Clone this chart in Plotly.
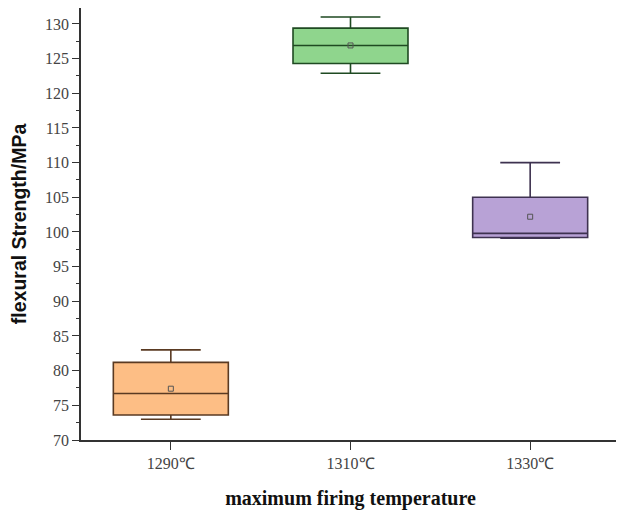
import plotly.graph_objects as go

categories = ["1290℃", "1310℃", "1330℃"]
lower = [73.0, 122.9, 99.1]
q1 = [73.6, 124.3, 99.2]
median = [76.7, 126.9, 99.8]
q3 = [81.2, 129.4, 105.0]
upper = [83.0, 131.0, 110.0]
means = [77.4, 126.9, 102.2]

fills = ["#FDBE85", "#8FD58D", "#B8A2D6"]
lines = ["#5A3A22", "#1F4A22", "#3E3250"]

fig = go.Figure()
for i in range(3):
    fig.add_trace(go.Box(
        x=[i], q1=[q1[i]], median=[median[i]], q3=[q3[i]],
        lowerfence=[lower[i]], upperfence=[upper[i]],
        fillcolor=fills[i], line=dict(color=lines[i], width=1.6),
        width=0.64, whiskerwidth=0.52, boxpoints=False, showlegend=False,
    ))
    fig.add_trace(go.Scatter(
        x=[i], y=[means[i]], mode="markers",
        marker=dict(symbol="square-open", size=5, color="#555555", line=dict(width=1)),
        showlegend=False, hoverinfo="skip",
    ))

fig.update_layout(
    width=624, height=512,
    margin=dict(l=73, r=12, t=0, b=80),
    plot_bgcolor="white", paper_bgcolor="white",
    font=dict(family="Liberation Serif", size=16, color="#444444"),
)
fig.update_xaxes(
    range=[-0.5, 2.5], tickvals=[0, 1, 2], ticktext=categories, automargin=False,
    showline=True, linecolor="#333333", linewidth=1.5,
    ticks="outside", ticklen=8, tickcolor="#333333", showgrid=False, zeroline=False,
    title=dict(text="<b>maximum firing temperature</b>",
               font=dict(size=20, color="#111111"), standoff=20),
)
fig.update_yaxes(
    range=[70, 132.3], tickvals=list(range(70, 131, 5)), automargin=False,
    showline=True, linecolor="#333333", linewidth=1.5,
    ticks="outside", ticklen=7, tickcolor="#333333", showgrid=False, zeroline=False,
    minor=dict(dtick=2.5, ticks="outside", ticklen=3, tickcolor="#333333"),
    title=dict(text="<b>flexural Strength/MPa</b>",
               font=dict(family="Liberation Sans", size=19.5, color="#111111"), standoff=14),
)

fig.write_html("out.html")
